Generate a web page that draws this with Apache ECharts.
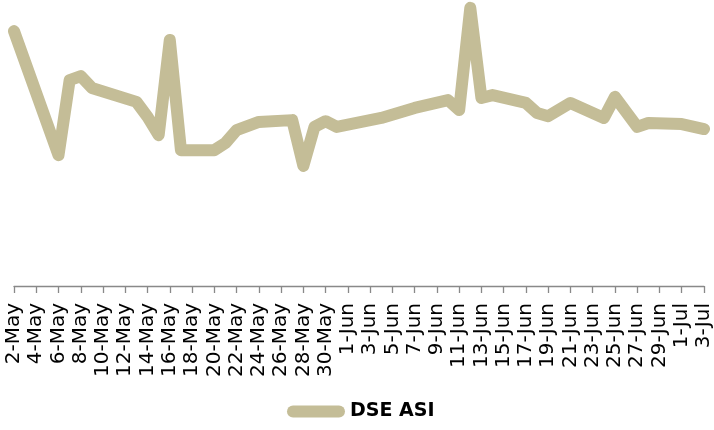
<!DOCTYPE html>
<html>
<head>
<meta charset="utf-8">
<script src="https://cdn.jsdelivr.net/npm/echarts@6/dist/echarts.min.js"></script>
<style>
html,body{margin:0;padding:0;background:#fff;}
#chart{width:714px;height:430px;}
</style>
</head>
<body>
<div id="chart"></div>
<script>
// Data
const seriesName = 'DSE ASI';
const dates = [
  '2016-05-02','2016-05-06','2016-05-07','2016-05-08','2016-05-09','2016-05-13','2016-05-14',
  '2016-05-15','2016-05-16','2016-05-17','2016-05-20','2016-05-21','2016-05-22','2016-05-24',
  '2016-05-27','2016-05-28','2016-05-29','2016-05-30','2016-05-31','2016-06-04','2016-06-07',
  '2016-06-10','2016-06-11','2016-06-12','2016-06-13','2016-06-14','2016-06-17','2016-06-18',
  '2016-06-19','2016-06-21','2016-06-24','2016-06-25','2016-06-27','2016-06-28','2016-07-01',
  '2016-07-03'
];
const values = [
  2513,2166,2376,2387,2354,2315,2273,
  2222,2488,2180,2180,2200,2236,2259,
  2264,2136,2245,2261,2245,2270,2298,
  2320,2292,2578,2326,2334,2312,2284,
  2275,2312,2270,2329,2245,2256,2253,
  2239
];
const axisStart = '2016-05-02';
const axisEnd = '2016-07-03';
const tickStepDays = 2;
const monthNames = ['Jan','Feb','Mar','Apr','May','Jun','Jul','Aug','Sep','Oct','Nov','Dec'];

const DAY = 86400000;
const t0 = Date.parse(axisStart + 'T00:00:00Z');
const dayOffset = s => Math.round((Date.parse(s + 'T00:00:00Z') - t0) / DAY);
const axisMax = dayOffset(axisEnd);
const seriesData = dates.map((d, i) => [dayOffset(d), values[i]]);
const labelFor = v => {
  const d = new Date(t0 + v * DAY);
  return d.getUTCDate() + '-' + monthNames[d.getUTCMonth()];
};

const chart = echarts.init(document.getElementById('chart'), null, {renderer: 'canvas'});
chart.setOption({
  animation: false,
  backgroundColor: '#ffffff',
  grid: {left: 14, right: 8, top: 0, bottom: 144, containLabel: false},
  xAxis: {
    type: 'value',
    min: 0,
    max: axisMax,
    interval: tickStepDays,
    splitLine: {show: false},
    axisLine: {show: true, lineStyle: {color: '#898989', width: 1.3}},
    axisTick: {show: true, length: 7, lineStyle: {color: '#898989', width: 1.3}},
    axisLabel: {
      rotate: 90,
      margin: 17,
      fontFamily: 'DejaVu Sans',
      fontSize: 20,
      color: '#000000',
      formatter: labelFor
    }
  },
  yAxis: {
    type: 'value',
    min: 1800,
    max: 2600,
    show: false,
    splitLine: {show: false}
  },
  legend: {
    show: true,
    bottom: 4,
    left: 282,
    itemWidth: 58,
    itemHeight: 12,
    itemGap: 10,
    icon: 'path://M6,0 L52,0 A6,6 0 0 1 52,12 L6,12 A6,6 0 0 1 6,0 Z',
    textStyle: {fontFamily: 'DejaVu Sans', fontWeight: 'bold', fontSize: 19, color: '#000000'},
    data: [seriesName]
  },
  series: [{
    name: seriesName,
    type: 'line',
    data: seriesData,
    symbol: 'none',
    showSymbol: false,
    color: '#C4BD97',
    lineStyle: {color: '#C4BD97', width: 12, cap: 'round', join: 'round'}
  }]
});
</script>
</body>
</html>
